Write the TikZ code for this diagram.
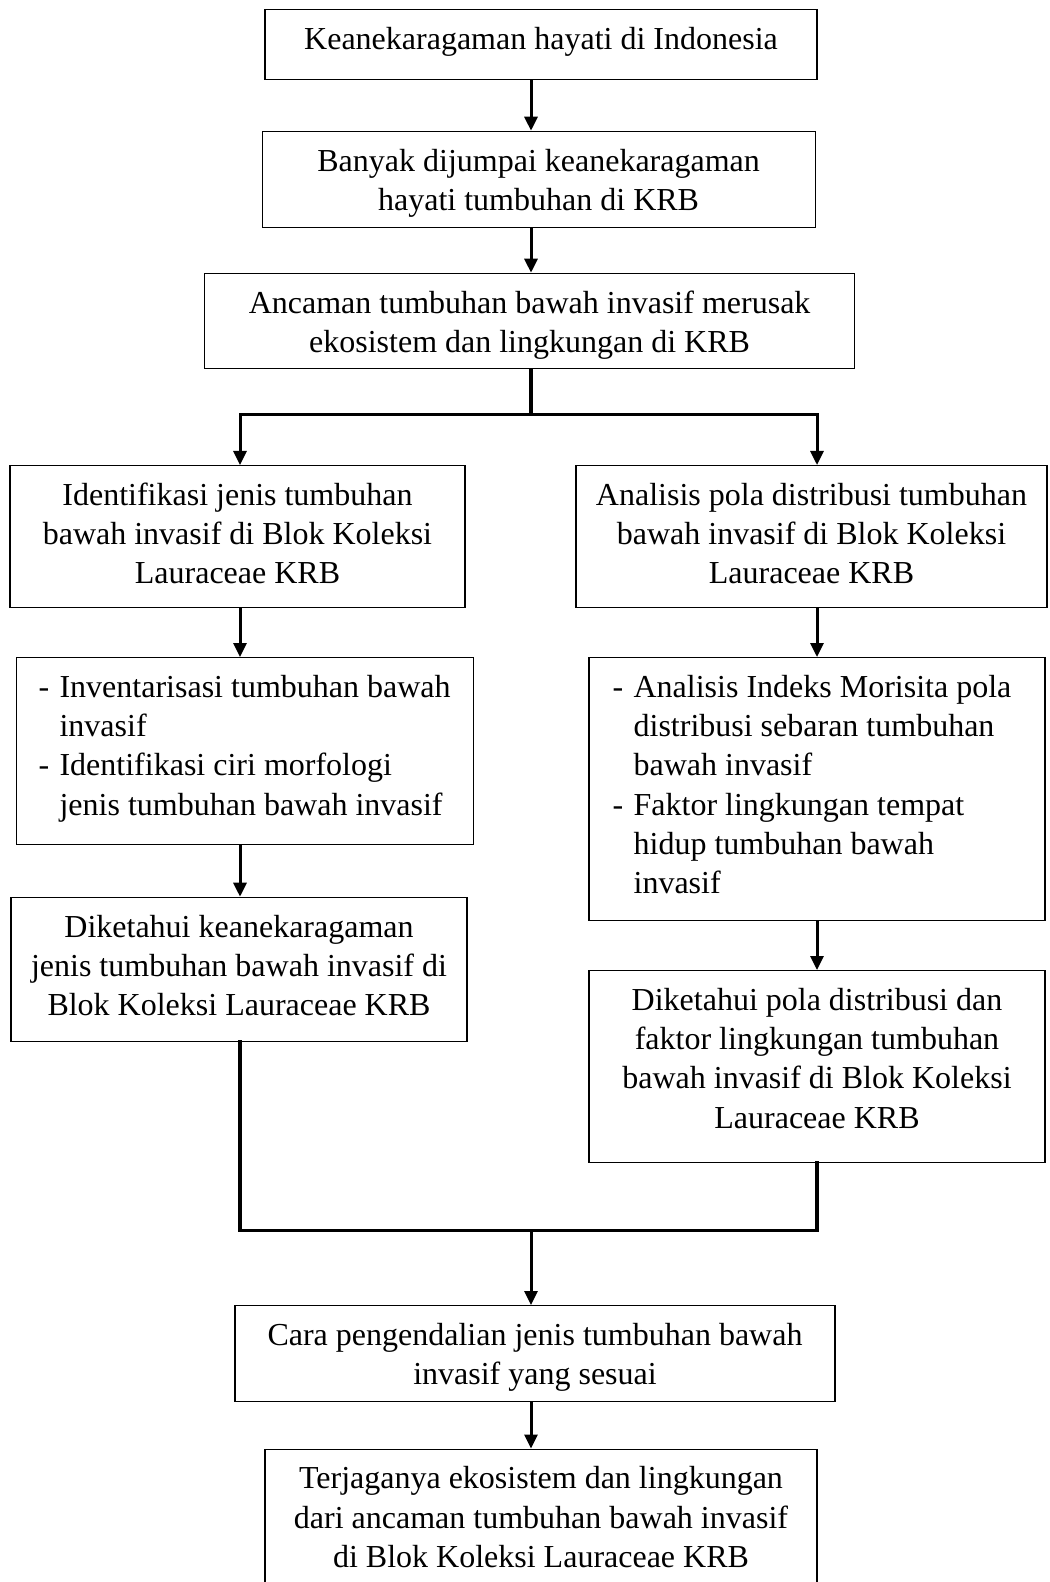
\documentclass[tikz,border=0pt]{standalone}
\usepackage{fontspec}
\setmainfont{Liberation Serif}
\usetikzlibrary{arrows.meta}

% first line of a box, and the list lines inside the two boxes with points
\newcommand{\fst}{\rule{0pt}{19.9pt}}
\newcommand{\lsitem}[1]{\makebox[10.5pt][l]{-}#1}
\newcommand{\lscont}[1]{\hspace*{10.5pt}#1}

\begin{document}
\begin{tikzpicture}[x=0.5pt,y=-0.5pt,
	box/.style={draw,line width=0.6pt,inner sep=0pt,align=center,anchor=north,
		font=\fontsize{16}{19.6}\selectfont},
	pad/.style={execute at end node={\rule[-#1]{0pt}{#1}}},
	lst/.style={box,align=left},
	arr/.style={line width=1.5pt,line join=miter,-{Triangle[length=7pt,width=6.5pt]}},
	bar/.style={line width=1.7pt,line join=miter,line cap=rect}]
		\useasboundingbox (0,0) rectangle (1049,1582);
		\path (541,9) node(a)[box,pad=15.1pt,minimum width=276pt]
			{\fst Keanekaragaman hayati di Indonesia}
		(538.6,130.7) node(b)[box,pad=8.5pt,minimum width=276.5pt]
			{\fst Banyak dijumpai keanekaragaman\\hayati tumbuhan di KRB}
		(529.6,272.7) node(c)[box,pad=8.3pt,minimum width=325pt]
			{\fst Ancaman tumbuhan bawah invasif merusak\\ekosistem dan lingkungan di KRB}
		(237.5,465) node(d)[box,pad=11.9pt,minimum width=227.5pt]
			{\fst Identifikasi jenis tumbuhan\\bawah invasif di Blok Koleksi\\Lauraceae KRB}
		(811.5,465) node(e)[box,pad=11.9pt,minimum width=235.5pt]
			{\fst Analisis pola distribusi tumbuhan\\bawah invasif di Blok Koleksi\\Lauraceae KRB}
		(244.6,657) node(f)[lst,pad=14.8pt,minimum width=228.5pt]
			{\fst\lsitem{Inventarisasi tumbuhan bawah}\\\lscont{invasif}\\
			 \lsitem{Identifikasi ciri morfologi}\\\lscont{jenis tumbuhan bawah invasif}}
		(817,657) node(g)[lst,pad=13.6pt,minimum width=228pt]
			{\fst\lsitem{Analisis Indeks Morisita pola}\hspace*{5pt}\\\lscont{distribusi sebaran tumbuhan}\\
			 \lscont{bawah invasif}\\\lsitem{Faktor lingkungan tempat}\\
			 \lscont{hidup tumbuhan bawah}\\\lscont{invasif}}
		(239,896.7) node(h)[box,pad=13pt,minimum width=228pt]
			{\fst Diketahui keanekaragaman\\jenis tumbuhan bawah invasif di\\Blok Koleksi Lauraceae KRB}
		(817,970) node(i)[box,pad=17.1pt,minimum width=228pt]
			{\fst Diketahui pola distribusi dan\\faktor lingkungan tumbuhan\\bawah invasif di Blok Koleksi\\Lauraceae KRB}
		(535,1305) node(j)[box,pad=8.5pt,minimum width=300pt]
			{\fst Cara pengendalian jenis tumbuhan bawah\\invasif yang sesuai}
		(541,1448.5) node(k)[box,pad=12.5pt,minimum width=276pt]
			{\fst Terjaganya ekosistem dan lingkungan\\dari ancaman tumbuhan bawah invasif\\di Blok Koleksi Lauraceae KRB};
		% columns of the connectors
		\coordinate (m) at (531,0);
		\coordinate (jl) at (240,414.6);
		\coordinate (jr) at (817,414.6);
		\coordinate (jb) at (0,1230.6);
		\draw [arr] (a.south -| m) to (b.north -| m);
		\draw [arr] (b.south -| m) to (c.north -| m);
		\draw [bar] (c.south -| m) -- (m |- jl);
		\draw [arr] (m |- jl) -| (d.north -| jl);
		\draw [arr] (m |- jl) -| (e.north -| jr);
		\draw [arr] (d.south -| jl) to (f.north -| jl);
		\draw [arr] (f.south -| jl) to (h.north -| jl);
		\draw [arr] (e.south -| jr) to (g.north -| jr);
		\draw [arr] (g.south -| jr) to (i.north -| jr);
		\draw [bar] (h.south -| jl) -- (jl |- jb) -- (jr |- jb) -- (i.south -| jr);
		\draw [arr] (m |- jb) to (j.north -| m);
		\draw [arr] (j.south -| m) to (k.north -| m);
	\end{tikzpicture}
\end{document}
